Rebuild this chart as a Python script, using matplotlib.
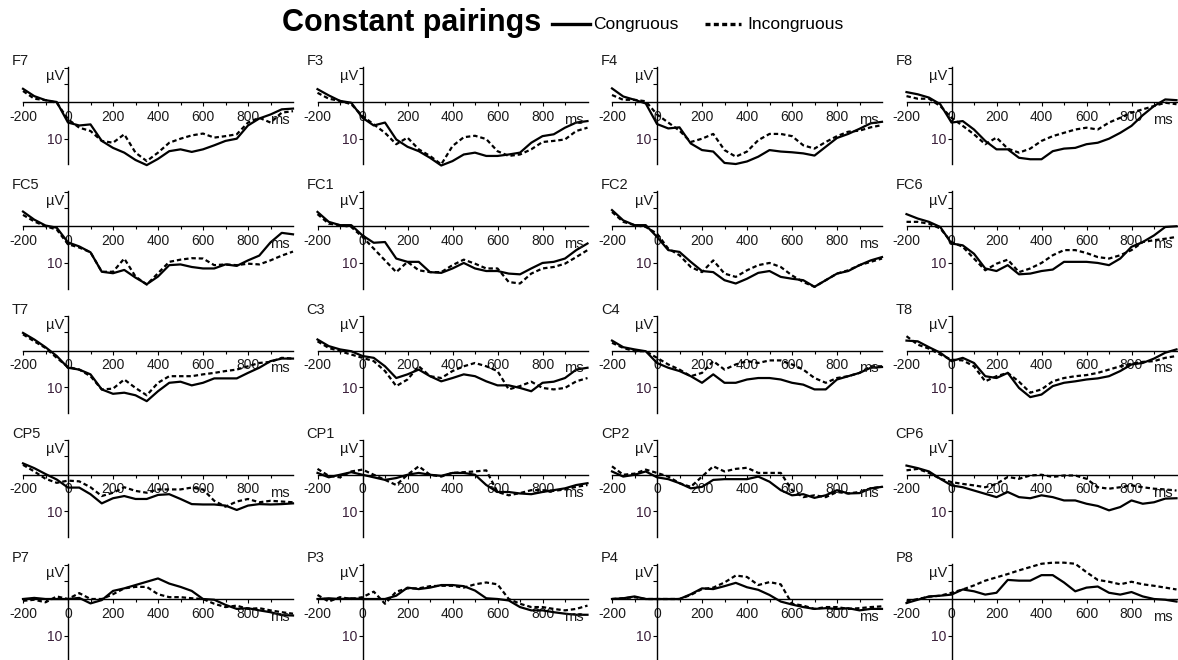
import matplotlib
matplotlib.use("Agg")
import matplotlib.pyplot as plt
from matplotlib.lines import Line2D

plt.rcParams['font.family'] = ['Liberation Sans', 'DejaVu Sans']

times = [-200, -150, -100, -50, 0, 50, 100, 150, 200, 250, 300, 350, 400,
         450, 500, 550, 600, 650, 700, 750, 800, 850, 900, 950, 1000]

channels = ['F7', 'F3', 'F4', 'F8', 'FC5', 'FC1', 'FC2', 'FC6', 'T7', 'C3', 'C4', 'T8',
            'CP5', 'CP1', 'CP2', 'CP6', 'P7', 'P3', 'P4', 'P8']

# values in microvolts (negative up)
f7_con = [-3.6, -1.6, -0.5, 0.0, 5.6, 6.4, 6.1, 10.6, 12.5, 13.8, 15.8, 17.2, 15.5, 13.4, 12.9, 13.6, 12.9, 11.8, 10.6, 10.0, 6.4, 4.5, 3.4, 2.0, 1.8]
f7_inc = [-3.0, -0.9, -0.5, 0.2, 4.7, 7.0, 7.9, 10.6, 11.1, 8.8, 13.8, 16.1, 13.8, 11.1, 10.0, 9.1, 8.6, 9.7, 9.3, 8.8, 5.6, 4.3, 5.6, 2.9, 2.5]
f3_con = [-3.5, -1.8, -0.3, 0.2, 4.3, 6.4, 5.6, 10.2, 12.2, 13.4, 15.2, 17.3, 16.1, 14.3, 13.8, 14.7, 14.7, 14.3, 13.8, 11.1, 9.3, 8.8, 7.0, 5.6, 5.2]
f3_inc = [-2.5, -0.9, -0.3, 0.6, 3.8, 6.1, 8.4, 11.5, 9.7, 12.9, 14.7, 17.0, 12.0, 9.6, 9.2, 10.1, 13.4, 14.7, 14.3, 12.9, 10.9, 10.6, 10.2, 7.9, 7.0]
f4_con = [-3.7, -1.5, -0.6, 0.4, 6.0, 7.2, 6.9, 11.3, 13.1, 13.5, 16.6, 16.9, 16.2, 14.9, 13.1, 13.5, 13.7, 14.0, 14.6, 12.2, 9.8, 8.7, 7.3, 5.8, 5.4]
f4_inc = [-1.9, -0.6, -0.6, -0.2, 3.4, 5.6, 7.8, 10.9, 10.0, 8.7, 13.1, 14.9, 13.5, 10.4, 8.7, 8.7, 9.3, 11.8, 12.7, 10.9, 9.3, 8.1, 7.8, 6.9, 6.3]
f8_con = [-2.7, -2.1, -1.2, 0.6, 5.6, 5.2, 7.5, 10.6, 12.9, 12.9, 15.2, 15.6, 15.6, 13.4, 12.7, 12.5, 11.5, 11.1, 10.0, 8.4, 6.5, 3.6, 1.1, -0.7, -0.5]
f8_inc = [-1.6, -0.9, -0.9, 1.1, 4.3, 6.5, 8.8, 11.5, 9.7, 12.7, 13.8, 12.7, 10.6, 9.3, 8.4, 7.5, 7.0, 7.5, 5.6, 4.3, 2.9, 2.0, 1.1, 0.2, 0.6]
fc5_con = [-4.0, -1.8, -0.2, 0.4, 4.4, 5.5, 7.1, 12.4, 12.8, 11.9, 14.0, 15.8, 13.7, 10.6, 10.4, 11.1, 11.5, 11.5, 10.4, 10.8, 9.3, 8.0, 4.4, 1.8, 2.2]
fc5_inc = [-3.1, -1.3, 0.0, 0.9, 4.9, 5.8, 7.1, 12.4, 12.4, 8.8, 13.7, 15.9, 12.8, 9.7, 9.1, 8.7, 8.8, 10.6, 10.4, 10.6, 10.2, 10.4, 9.3, 8.0, 6.9]
fc1_con = [-3.9, -1.2, -0.3, -0.3, 2.5, 4.5, 4.3, 8.8, 9.7, 9.7, 12.5, 12.7, 11.5, 10.0, 11.5, 12.2, 12.2, 12.9, 13.1, 11.5, 10.0, 9.7, 8.8, 6.5, 4.7]
fc1_inc = [-3.3, -0.7, -0.3, 0.2, 2.9, 6.1, 9.3, 12.5, 9.7, 12.0, 12.5, 12.5, 10.6, 9.1, 10.2, 11.5, 11.5, 15.2, 15.6, 12.9, 11.5, 11.1, 10.2, 8.4, 6.5]
fc2_con = [-4.4, -1.6, -0.3, -0.3, 2.9, 6.5, 7.0, 9.7, 12.2, 12.5, 14.7, 15.6, 14.3, 12.7, 12.2, 13.8, 14.3, 14.7, 16.5, 14.7, 12.9, 12.2, 10.6, 9.3, 8.4]
fc2_inc = [-3.9, -1.2, -0.3, 0.2, 2.0, 6.1, 7.9, 11.1, 12.5, 9.3, 12.9, 13.8, 12.0, 10.6, 10.0, 11.1, 13.4, 15.2, 16.5, 14.7, 12.9, 12.0, 10.6, 9.7, 8.8]
fc6_con = [-3.3, -2.1, -1.2, 0.2, 4.7, 5.2, 7.5, 11.5, 12.2, 10.6, 13.1, 12.9, 12.2, 11.8, 9.7, 9.7, 9.7, 10.0, 10.6, 8.8, 5.6, 4.3, 2.5, 0.2, 0.0]
fc6_inc = [-1.2, -1.2, -0.7, 0.6, 4.3, 5.6, 8.8, 12.0, 10.2, 9.1, 12.5, 11.5, 10.0, 7.9, 6.5, 6.5, 7.3, 8.4, 8.8, 7.9, 6.5, 4.3, 3.8, 3.4, 2.9]
t7_con = [-4.8, -3.0, -0.9, 1.5, 4.7, 5.2, 6.5, 10.6, 11.8, 11.5, 12.2, 13.8, 11.1, 8.8, 8.5, 9.5, 8.8, 7.6, 7.6, 7.6, 6.1, 4.7, 2.9, 2.2, 2.2]
t7_inc = [-4.4, -2.5, -0.7, 2.0, 4.5, 5.2, 7.0, 10.6, 10.4, 7.9, 10.2, 12.2, 8.8, 7.0, 7.0, 7.0, 6.5, 6.1, 5.6, 5.2, 4.3, 3.4, 3.1, 2.0, 2.2]
c3_con = [-3.0, -1.2, -0.3, 0.2, 1.5, 2.0, 4.3, 7.5, 6.5, 5.2, 7.0, 8.4, 7.5, 6.5, 7.0, 8.4, 9.5, 9.5, 10.2, 11.1, 8.8, 8.5, 7.5, 5.2, 4.7]
c3_inc = [-2.5, -0.7, 0.2, 1.1, 2.0, 2.9, 5.6, 9.7, 7.9, 4.3, 7.0, 7.5, 5.6, 4.3, 3.4, 4.3, 5.6, 10.6, 9.7, 8.5, 10.2, 10.6, 10.2, 8.4, 7.5]
c4_con = [-2.7, -0.9, -0.3, 0.2, 3.4, 4.7, 5.6, 7.0, 8.8, 6.5, 8.8, 8.8, 7.9, 7.5, 7.5, 7.9, 8.8, 9.3, 10.6, 10.6, 7.9, 7.0, 6.1, 4.7, 4.5]
c4_inc = [-2.1, -0.7, 0.2, 0.2, 2.0, 3.8, 5.2, 7.0, 6.1, 2.9, 5.2, 3.8, 2.9, 3.4, 2.7, 2.7, 3.8, 5.2, 7.5, 8.8, 7.5, 7.0, 6.1, 4.3, 4.3]
t8_con = [-2.7, -2.5, -0.9, 0.6, 2.9, 2.0, 3.4, 7.0, 7.5, 6.1, 10.2, 12.7, 12.0, 9.7, 8.8, 8.4, 7.9, 7.6, 7.0, 5.6, 3.8, 3.4, 2.2, 0.6, -0.3]
t8_inc = [-3.9, -1.6, -0.5, 1.1, 2.5, 2.7, 4.3, 8.4, 7.0, 6.1, 8.5, 11.5, 10.6, 8.4, 7.5, 7.0, 6.7, 6.1, 5.2, 4.3, 3.6, 3.1, 2.9, 2.0, 1.5]
cp5_con = [-3.1, -1.8, -0.2, 1.3, 3.5, 3.5, 5.3, 7.8, 6.4, 5.8, 6.6, 6.6, 5.5, 5.3, 6.6, 8.0, 8.1, 8.1, 8.4, 9.6, 8.4, 8.0, 8.1, 8.0, 7.8]
cp5_inc = [-2.7, -0.9, 1.1, 2.2, 1.6, 1.8, 3.4, 5.8, 4.9, 3.4, 4.4, 4.9, 4.0, 4.0, 4.0, 3.5, 4.0, 7.1, 8.7, 7.3, 6.6, 7.5, 7.1, 7.3, 7.5]
cp1_con = [-0.5, 0.7, 0.0, -0.7, 0.0, 0.7, 1.4, 0.9, 0.0, -0.5, 0.0, 0.3, -0.5, -0.5, 0.0, 2.8, 4.7, 4.7, 5.1, 5.3, 4.7, 4.2, 3.7, 2.8, 2.3]
cp1_inc = [-1.6, 0.3, 0.7, -0.9, -1.4, 0.0, 1.4, 2.8, 0.0, -2.3, 0.0, 0.5, -0.5, -0.7, -0.9, -1.2, 4.7, 5.6, 5.0, 4.2, 4.2, 4.4, 4.0, 3.3, 2.8]
cp2_con = [-0.9, 0.5, 0.0, -0.9, 0.7, 1.2, 2.3, 3.7, 3.3, 1.4, 1.2, 1.2, 1.2, 0.5, 1.9, 4.2, 5.6, 5.3, 6.3, 5.6, 4.2, 5.1, 5.0, 3.7, 3.3]
cp2_inc = [-2.3, 0.0, -0.3, -1.4, -0.5, 0.5, 2.3, 3.3, 0.5, -2.3, -0.9, -1.6, -1.9, -0.5, -0.5, -0.5, 4.2, 6.1, 5.6, 6.1, 4.7, 5.1, 4.7, 3.7, 3.3]
cp6_con = [-2.5, -1.8, -0.9, 1.1, 2.9, 3.4, 4.3, 5.2, 6.1, 4.7, 6.1, 6.4, 5.6, 6.1, 7.0, 7.0, 7.9, 8.5, 9.7, 8.8, 7.0, 7.9, 7.5, 6.5, 6.4]
cp6_inc = [-1.2, -1.6, -0.5, 1.1, 2.0, 2.5, 2.9, 3.4, 2.5, 0.6, 1.1, 0.2, 0.0, 0.6, 0.2, 0.2, 1.1, 3.4, 3.8, 3.4, 2.9, 3.4, 3.8, 4.0, 4.3]
p7_con = [0.0, -0.3, 0.0, 0.0, 0.0, -0.3, 1.2, 0.3, -2.2, -2.9, -3.8, -4.7, -5.6, -4.2, -3.3, -2.2, 0.0, 0.2, 1.6, 2.7, 2.5, 3.1, 3.6, 4.4, 4.5]
p7_inc = [0.5, 0.2, 0.9, -0.7, 0.0, -1.6, 0.0, 0.0, -1.3, -2.9, -3.3, -3.3, -1.3, -0.5, -0.5, -0.2, 0.0, 1.3, 2.2, 1.8, 2.7, 2.5, 3.1, 3.6, 4.0]
p3_con = [0.0, -0.2, 0.0, -0.2, 0.0, 0.0, 0.0, -0.9, -3.1, -2.7, -3.1, -3.8, -3.8, -3.5, -2.3, -0.2, 0.0, 0.4, 2.2, 3.1, 3.1, 3.6, 4.0, 4.3, 4.3]
p3_inc = [-1.1, 0.7, -0.5, 0.0, -0.5, -2.0, 1.3, -2.0, -2.9, -2.9, -3.5, -3.6, -3.6, -3.1, -4.0, -4.5, -4.0, 0.0, 1.3, 2.2, 2.2, 2.7, 3.1, 2.7, 1.8]
p4_con = [0.0, -0.2, -0.7, 0.0, 0.0, 0.0, 0.0, -1.3, -2.9, -2.7, -3.5, -4.4, -3.2, -2.5, -1.1, 0.7, 1.5, 2.2, 2.7, 2.5, 2.7, 2.5, 3.1, 2.7, 2.7]
p4_inc = [0.0, -0.2, -0.5, 0.0, 0.0, 0.0, 0.0, -1.1, -2.7, -3.1, -4.5, -6.4, -6.0, -3.8, -4.6, -4.0, 1.3, 1.8, 2.7, 2.2, 2.2, 2.7, 2.5, 2.2, 2.0]
p8_con = [1.1, 0.2, -0.7, -0.9, -1.2, -2.6, -2.1, -1.2, -1.7, -5.2, -5.0, -5.0, -6.5, -6.5, -4.5, -2.1, -3.1, -3.4, -1.7, -1.2, -1.9, -0.7, 0.0, 0.2, 0.7]
p8_inc = [0.7, 0.0, -0.6, -0.9, -1.7, -2.6, -3.7, -5.0, -5.9, -6.8, -7.8, -8.7, -9.6, -9.9, -9.9, -9.6, -7.3, -5.2, -4.7, -4.0, -4.7, -4.0, -3.6, -3.1, -2.6]

congruous = [f7_con, f3_con, f4_con, f8_con, fc5_con, fc1_con, fc2_con, fc6_con,
             t7_con, c3_con, c4_con, t8_con, cp5_con, cp1_con, cp2_con, cp6_con,
             p7_con, p3_con, p4_con, p8_con]
incongruous = [f7_inc, f3_inc, f4_inc, f8_inc, fc5_inc, fc1_inc, fc2_inc, fc6_inc,
               t7_inc, c3_inc, c4_inc, t8_inc, cp5_inc, cp1_inc, cp2_inc, cp6_inc,
               p7_inc, p3_inc, p4_inc, p8_inc]

W, H = 1178, 660
fig = plt.figure(figsize=(W / 100, H / 100), dpi=100)

YTOP, YBOT = -9.5, 17.0
PX_UV = 3.67
PX_MS = 0.225
TXT = '#1a1a1a'
dash = (0, (2.0, 1.3))

for i, ch in enumerate(channels):
    r, c = divmod(i, 4)
    left = 23 + 294.5 * c
    zero = 102 + 124.25 * r
    top = zero + YTOP * PX_UV
    bot = zero + YBOT * PX_UV
    ax = fig.add_axes([left / W, 1 - bot / H, 1200 * PX_MS / W, (bot - top) / H])
    ax.set_xlim(-200, 1000)
    ax.set_ylim(YBOT, YTOP)
    ax.patch.set_alpha(0)
    for s in ('top', 'right'):
        ax.spines[s].set_visible(False)
    ax.spines['left'].set_position(('data', 0))
    ax.spines['bottom'].set_position(('data', 0))
    ax.spines['left'].set_linewidth(1.0)
    ax.spines['bottom'].set_linewidth(1.0)
    ax.set_xticks([-200, 0, 200, 400, 600, 800])
    ax.set_xticklabels(['-200', '0', '200', '400', '600', '800'])
    ax.set_xticks([-100, 100, 300, 500, 700, 900], minor=True)
    ax.tick_params(axis='x', which='major', direction='out', length=3, width=0.8,
                   pad=2.5, labelsize=10, labelcolor=TXT)
    ax.tick_params(axis='x', which='minor', direction='out', length=2.5, width=0.8)
    ax.set_yticks([YTOP + 0.1, -5, 10])
    ax.set_yticklabels(['', '', '10'])
    ax.tick_params(axis='y', direction='out', length=3, width=0.8, pad=1,
                   labelsize=10, labelcolor='#3a1f3a')
    ax.plot(times, congruous[i], color='black', lw=1.6, clip_on=False)
    ax.plot(times, incongruous[i], color='black', lw=1.6, linestyle=dash, clip_on=False)
    ax.text(-18, -7.0, 'µV', ha='right', va='center', fontsize=10.5, color=TXT)
    ax.text(940, 4.9, 'ms', ha='center', va='center', fontsize=10.5, color=TXT)
    fig.text((left - 11) / W, 1 - (zero - 41) / H, ch, ha='left', va='center',
             fontsize=10.5, color=TXT)

fig.text(282 / W, 1 - 23 / H, 'Constant pairings', ha='left', va='center',
         fontsize=22, fontweight='bold', color='black')
fig.add_artist(Line2D([552 / W, 590 / W], [1 - 24 / H, 1 - 24 / H], color='black', lw=2.4))
fig.text(593 / W, 1 - 24 / H, 'Congruous', ha='left', va='center', fontsize=12.5, color='black')
fig.add_artist(Line2D([705 / W, 741 / W], [1 - 24 / H, 1 - 24 / H], color='black', lw=2.4,
                      linestyle=(0, (1.5, 1.0))))
fig.text(747 / W, 1 - 24 / H, 'Incongruous', ha='left', va='center', fontsize=12.5, color='black')

fig.savefig('out.png', dpi=100)
